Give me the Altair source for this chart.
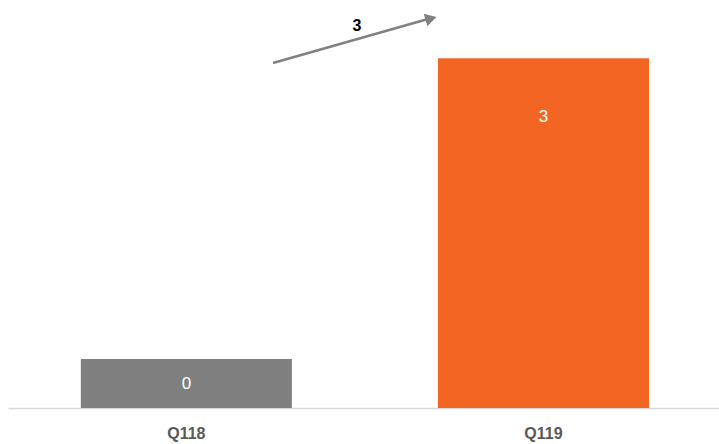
import altair as alt
import pandas as pd

categories = ["Q118", "Q119"]
values = [0.42, 3.0]
labels = ["0", "3"]
colors = ["#7f7f7f", "#f26522"]
change_label = "3"

df = pd.DataFrame({"cat": categories, "value": values, "label": labels, "color": colors})

x_enc = alt.X("cat:N", sort=categories, title=None,
              scale=alt.Scale(paddingInner=0.409, paddingOuter=0.2, align=0.51),
              axis=alt.Axis(labelFontSize=16, labelFontWeight="bold", labelColor="#595959",
                            labelFont="Liberation Sans", labelAngle=0, labelPadding=17,
                            ticks=False, domainColor="#d9d9d9", domainWidth=1.5, grid=False))
y_scale = alt.Scale(domain=[0, 3.5], nice=False, zero=True)

base = alt.Chart(df)

bars = base.mark_bar().encode(
    x=x_enc,
    y=alt.Y("value:Q", scale=y_scale, axis=None),
    color=alt.Color("color:N", scale=None),
)

txt1 = base.transform_filter(alt.datum.cat == "Q118").transform_calculate(
    mid="datum.value / 2"
).mark_text(color="white", fontSize=17, font="Liberation Sans", baseline="middle").encode(
    x=alt.X("cat:N", sort=categories),
    y=alt.Y("mid:Q", scale=y_scale),
    text="label:N",
)

txt2 = base.transform_filter(alt.datum.cat == "Q119").mark_text(
    color="white", fontSize=17, font="Liberation Sans", baseline="middle", dy=59
).encode(
    x=alt.X("cat:N", sort=categories),
    y=alt.Y("value:Q", scale=y_scale),
    text="label:N",
)

arrow_df = pd.DataFrame({"t": [change_label]})
arrow_line = alt.Chart(arrow_df).mark_rule(color="#808080", strokeWidth=2.5).encode(
    x=alt.value(265), x2=alt.value(420), y=alt.value(63), y2=alt.value(19)
)
arrow_head = alt.Chart(arrow_df).mark_point(
    shape="triangle-right", filled=True, color="#808080", size=170, opacity=1, angle=344
).encode(x=alt.value(423), y=alt.value(18.5))
arrow_text = alt.Chart(arrow_df).mark_text(
    fontSize=16, fontWeight="bold", color="black", font="Liberation Sans", baseline="middle"
).encode(x=alt.value(349), y=alt.value(26), text="t:N")

chart = alt.layer(bars, txt1, txt2, arrow_line, arrow_head, arrow_text).properties(
    width=711, height=408,
    autosize=alt.AutoSizeParams(type="none"),
    padding={"left": 8, "top": 0, "right": 0, "bottom": 36},
).configure_view(stroke=None)

chart.save("out.html", embed_options={"renderer": "svg", "actions": False})
